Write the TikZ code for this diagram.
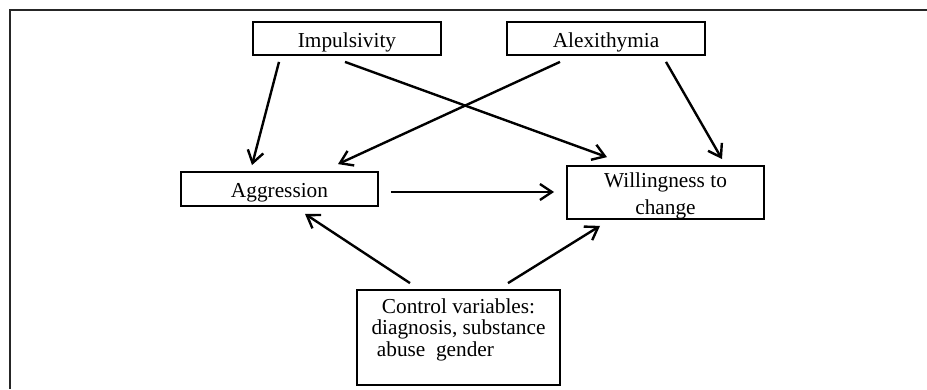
\documentclass[tikz,border=0pt]{standalone}
\usepackage{fontspec}
\setmainfont{Liberation Serif}
\usetikzlibrary{arrows.meta,calc}

\begin{document}
\begin{tikzpicture}[x=1pt,y=-1pt,
  varbox/.style={draw=black, line width=1.8pt, rectangle, inner sep=0pt,
    font=\fontsize{21.3}{26.5}\selectfont, align=center},
  oneline/.style={text height=20.5pt, text depth=3pt},
  arr/.style={-{Straight Barb[length=12pt,width=16pt,line width=2.4pt]}, line width=2.4pt, black},
  frameline/.style={line width=2.2pt, black!85}]

  % canvas and open frame (top and left edges)
  \useasboundingbox (0,0) rectangle (927,389);
  \coordinate (fTL) at (10,10);
  \coordinate (fTR) at (927,10);
  \coordinate (fBL) at (10,389);
  \draw[frameline] (fTR) -- (fTL) -- (fBL);

  % variables
  \node[varbox, oneline, minimum width=188, minimum height=33] (imp) at (347,38.5) {Impulsivity};
  \node[varbox, oneline, minimum width=198, minimum height=33] (alex) at (606,38.5) {Alexithymia};
  \node[varbox, oneline, minimum width=197, minimum height=34] (agg) at (279.5,189) {Aggression};
  \node[varbox, minimum width=197, minimum height=53] (will) at (665.5,192.5)
    {\raisebox{-3pt}[\height][\depth]{\begin{tabular}{@{}c@{}}Willingness to\\change\end{tabular}}};
  \node[varbox, minimum width=203, minimum height=95] (ctrl) at (458.5,337.5)
    {\raisebox{7pt}[\height][\depth]{\fontsize{21.3}{21.5}\selectfont
      \begin{tabular}{@{}c@{}}Control variables:\\diagnosis, substance\\abuse\ \ gender\hspace*{46pt}\end{tabular}}};

  % paths
  \draw[arr] ($(imp.south)+(-68,6)$) -- ($(agg.north)+(-27.5,-6)$);
  \draw[arr] ($(imp.south)+(-2,6)$) -- ($(will.north)+(-58.5,-8)$);
  \draw[arr] ($(alex.south)+(-46,6)$) -- ($(agg.north)+(58.5,-7)$);
  \draw[arr] ($(alex.south)+(60,6)$) -- ($(will.north)+(56.5,-6)$);
  \draw[arr] ($(agg.east)+(12,3)$) -- ($(will.west)+(-12,-0.5)$);
  \draw[arr] ($(ctrl.north)+(-48.5,-6)$) -- ($(agg.south)+(25.5,7)$);
  \draw[arr] ($(ctrl.north)+(49.5,-6)$) -- ($(will.south)+(-65.5,6)$);
\end{tikzpicture}
\end{document}
